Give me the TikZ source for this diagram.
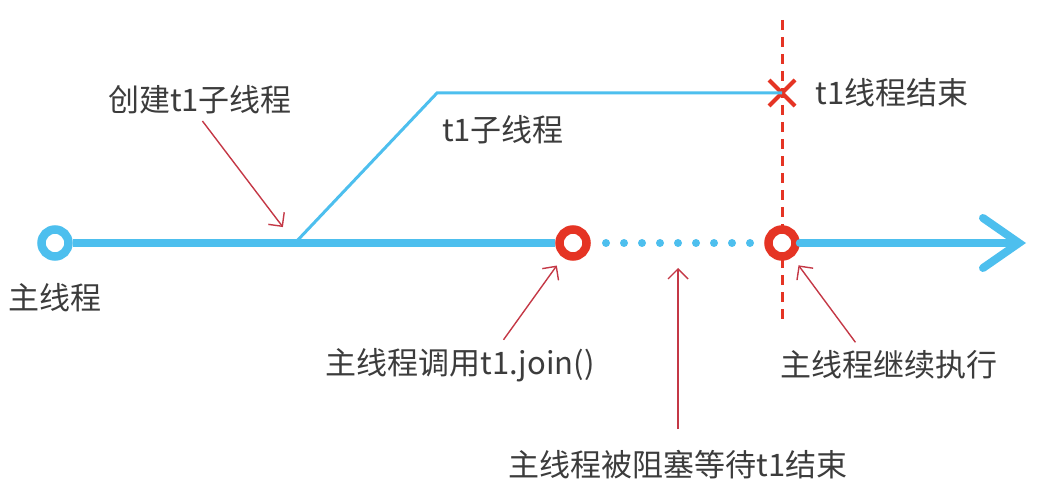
\documentclass[tikz,border=0pt]{standalone}
\usepackage{fontspec}
\usepackage{tikz}
\usetikzlibrary{arrows.meta}
\usetikzlibrary{positioning}
\usetikzlibrary{shapes.misc}
\newfontfamily\cjk{Noto Sans CJK SC}
\definecolor{lineblue}{RGB}{77,191,238}
\definecolor{ringred}{RGB}{229,52,36}
\definecolor{calloutred}{RGB}{196,56,70}
\definecolor{textgray}{RGB}{60,60,60}
\tikzset{%
  mainline/.style={draw=lineblue, line width=8pt},
  subline/.style={draw=lineblue, line width=3pt},
  ring/.style={circle, draw=#1, fill=white, line width=8.5pt, minimum size=27pt, inner sep=0pt},
  callout/.style={draw=calloutred, line width=1.4pt, -{Straight Barb[length=10pt, width=20pt]}},
  lbl/.style={font=\cjk\fontsize{31}{36}\selectfont, text=textgray}
}

\begin{document}
\begin{tikzpicture}[x=1pt, y=-1pt]
  \useasboundingbox (0,0) rectangle (1046,494);
  \coordinate (fork) at (295,243);
  \coordinate (corner) at (437,93);
  \coordinate (tip) at (1026,243);
  \coordinate (gap) at (678,243);
  \coordinate (cuttop) at (782,20);
  \coordinate (cutbot) at (782,322);
  % end of t1
  \draw [draw=ringred, line width=3pt, dash pattern=on 10pt off 7pt] (cuttop) -- (cutbot);
  \node[cross out, draw=ringred, line width=4pt, minimum size=22pt] (end) at (782,93) {};
  \draw [subline] (fork) -- (corner) -- (end.center);
  % main thread
  \node[ring=lineblue] (start) at (55,243) {};
  \node[ring=ringred] (join) at (573,243) {};
  \node[ring=ringred] (resume) at (782,243) {};
  \draw [mainline] (start) -- (join);
  \draw [mainline, line cap=round, -{Straight Barb[length=36pt, width=50pt, line cap=round]}] (resume) -- (tip);
  \foreach \i in {0,...,8}
    \fill [lineblue] (606+18*\i,243) circle (4);
  % labels
  \node[lbl] (createlbl) at (200,100) {创建t1子线程};
  \node[lbl] (sublbl) at (503,130) {t1子线程};
  \node[lbl, right=30pt] (endlbl) at (end) {t1线程结束};
  \node[lbl] (mainlbl) at (55,298) {主线程};
  \node[lbl] (joinlbl) at (460,365) {主线程调用t1.join()};
  \node[lbl] (resumelbl) at (889,365) {主线程继续执行};
  \node[lbl] (waitlbl) at (678,465) {主线程被阻塞等待t1结束};
  % callouts
  \draw [callout, shorten <=4pt, shorten >=20pt] (createlbl.south) -- (fork);
  \draw [callout, shorten <=6pt, shorten >=10pt] ([xshift=40]joinlbl.north) -- (join);
  \draw [callout, shorten <=18pt, shorten >=25pt] (waitlbl.north) -- (gap);
  \draw [callout, shorten <=6pt, shorten >=10pt] ([xshift=-30]resumelbl.north) -- (resume);
\end{tikzpicture}
\end{document}
